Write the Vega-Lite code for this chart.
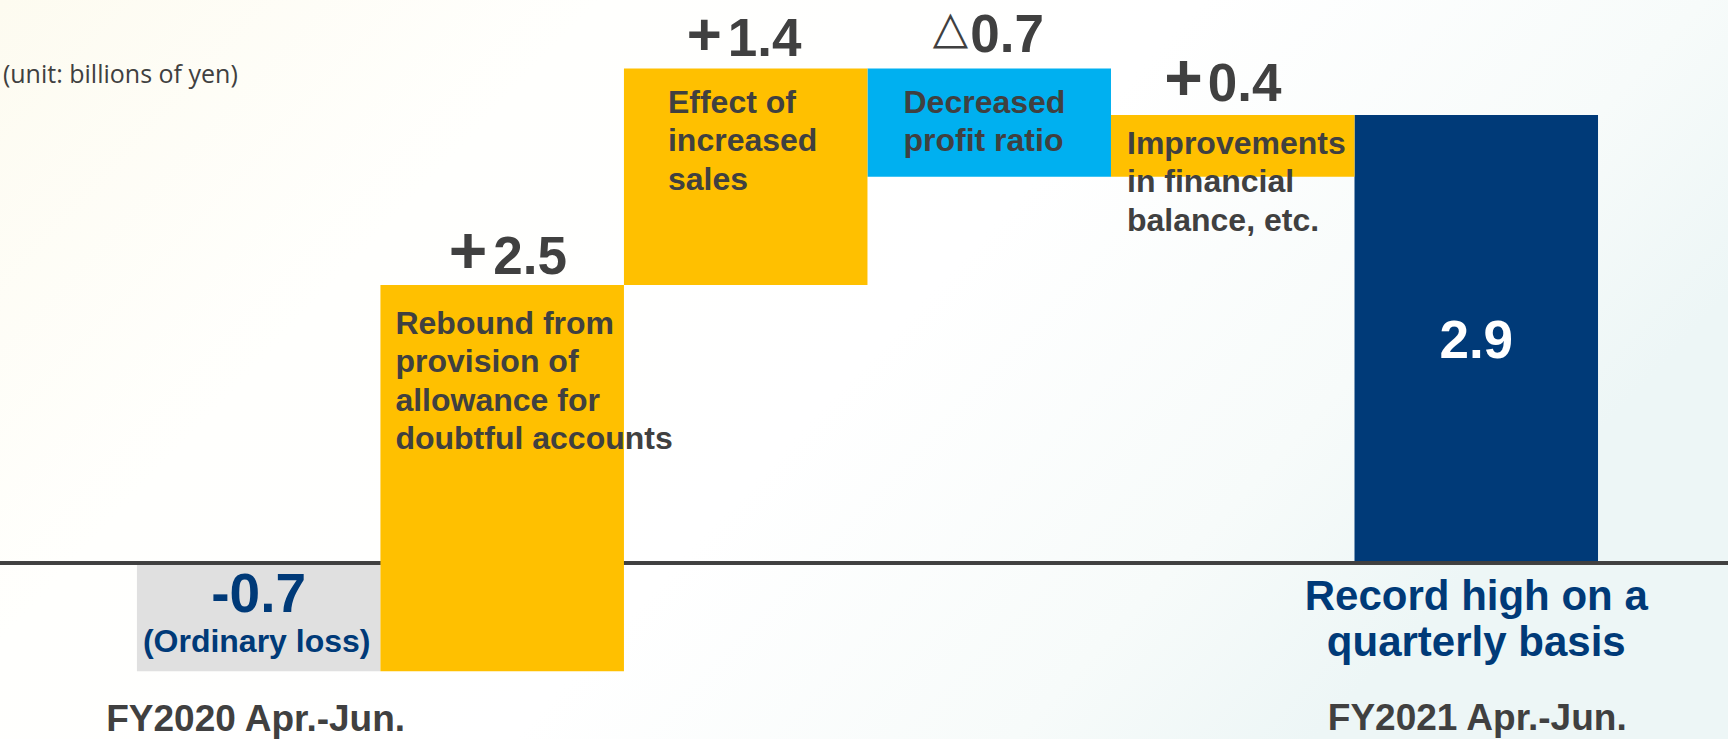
{
  "$schema": "https://vega.github.io/schema/vega-lite/v6.json",
  "width": 1728,
  "height": 739,
  "padding": 0,
  "autosize": {"type": "none"},
  "background": "#ffffff",
  "config": {
    "view": {"stroke": null},
    "axis": {"disable": true},
    "text": {"font": "Liberation Sans", "fontWeight": "bold", "color": "#404040"}
  },
  "data": {
    "values": [
      {"item": "FY2020", "kind": "base", "start": 0, "end": -0.7, "value_label": "-0.7", "note": "(Ordinary loss)", "period": "FY2020 Apr.-Jun."},
      {"item": "Rebound", "kind": "up", "start": -0.7, "end": 1.8, "sign": "+", "delta": "2.5", "desc": "Rebound from\nprovision of\nallowance for\ndoubtful accounts"},
      {"item": "Sales", "kind": "up", "start": 1.8, "end": 3.2, "sign": "+", "delta": "1.4", "desc": "Effect of\nincreased\nsales"},
      {"item": "Profit", "kind": "down", "start": 3.2, "end": 2.5, "sign": "△", "delta": "0.7", "desc": "Decreased\nprofit ratio"},
      {"item": "Financial", "kind": "up", "start": 2.5, "end": 2.9, "sign": "+", "delta": "0.4", "desc": "Improvements\nin financial\nbalance, etc."},
      {"item": "FY2021", "kind": "total", "start": 0, "end": 2.9, "value_label": "2.9", "note": "Record high on a\nquarterly basis", "period": "FY2021 Apr.-Jun."}
    ]
  },
  "layer": [
    {
      "data": {"values": [{"bg": 1}]},
      "mark": {
        "type": "rect",
        "stroke": null,
        "fill": {
          "gradient": "linear", "x1": 0, "y1": 0, "x2": 1, "y2": 0.4,
          "stops": [
            {"offset": 0, "color": "#FDFBF0"},
            {"offset": 0.3, "color": "#FFFFFD"},
            {"offset": 0.6, "color": "#FFFFFF"},
            {"offset": 0.85, "color": "#F7FBFA"},
            {"offset": 1, "color": "#EDF6F6"}
          ]
        }
      },
      "encoding": {
        "x": {"value": 0}, "x2": {"value": "width"},
        "y": {"value": 0}, "y2": {"value": "height"}
      }
    },
    {
      "transform": [{"filter": "datum.kind !== 'up'"}],
      "mark": {"type": "bar"},
      "encoding": {
        "x": {
          "field": "item", "type": "nominal", "axis": null,
          "scale": {
            "domain": ["FY2020", "Rebound", "Sales", "Profit", "Financial", "FY2021"],
            "paddingInner": 0, "paddingOuter": 0.548, "align": 0.513
          }
        },
        "y": {
          "field": "start", "type": "quantitative", "axis": null,
          "scale": {"domain": [-1.139, 3.644], "nice": false, "zero": false}
        },
        "y2": {"field": "end"},
        "color": {
          "field": "kind", "type": "nominal", "legend": null,
          "scale": {"domain": ["base", "up", "down", "total"], "range": ["#E0E0E0", "#FFC000", "#00B0F0", "#003A78"]}
        }
      }
    },
    {
      "mark": {"type": "rule", "stroke": "#404040", "strokeWidth": 3},
      "encoding": {"y": {"datum": 0}}
    },
    {
      "transform": [{"filter": "datum.kind === 'up'"}],
      "mark": {"type": "bar"},
      "encoding": {
        "x": {"field": "item", "type": "nominal"},
        "y": {"field": "start", "type": "quantitative"},
        "y2": {"field": "end"},
        "color": {"field": "kind", "type": "nominal", "legend": null}
      }
    },
    {
      "transform": [{"filter": "datum.item === 'Rebound'"}],
      "layer": [
        {"mark": {"type": "text", "fontSize": 66, "align": "right", "baseline": "alphabetic", "dx": -15, "dy": -12},
         "encoding": {"x": {"field": "item", "type": "nominal"}, "y": {"field": "end", "type": "quantitative"}, "text": {"field": "sign"}}},
        {"mark": {"type": "text", "fontSize": 53, "align": "left", "baseline": "alphabetic", "dx": -9, "dy": -11},
         "encoding": {"x": {"field": "item", "type": "nominal"}, "y": {"field": "end", "type": "quantitative"}, "text": {"field": "delta"}}}
      ]
    },
    {
      "transform": [{"filter": "datum.item === 'Sales'"}],
      "layer": [
        {"mark": {"type": "text", "fontSize": 60, "align": "right", "baseline": "alphabetic", "dx": -24, "dy": -14},
         "encoding": {"x": {"field": "item", "type": "nominal"}, "y": {"field": "end", "type": "quantitative"}, "text": {"field": "sign"}}},
        {"mark": {"type": "text", "fontSize": 53, "align": "left", "baseline": "alphabetic", "dx": -18, "dy": -13},
         "encoding": {"x": {"field": "item", "type": "nominal"}, "y": {"field": "end", "type": "quantitative"}, "text": {"field": "delta"}}}
      ]
    },
    {
      "transform": [{"filter": "datum.item === 'Financial'"}],
      "layer": [
        {"mark": {"type": "text", "fontSize": 66, "align": "right", "baseline": "alphabetic", "dx": -30, "dy": -15},
         "encoding": {"x": {"field": "item", "type": "nominal"}, "y": {"field": "end", "type": "quantitative"}, "text": {"field": "sign"}}},
        {"mark": {"type": "text", "fontSize": 53, "align": "left", "baseline": "alphabetic", "dx": -25, "dy": -14},
         "encoding": {"x": {"field": "item", "type": "nominal"}, "y": {"field": "end", "type": "quantitative"}, "text": {"field": "delta"}}}
      ]
    },
    {
      "transform": [{"filter": "datum.item === 'Profit'"}],
      "layer": [
        {"mark": {"type": "text", "fontSize": 46, "fontWeight": "normal", "font": "DejaVu Sans", "align": "right", "baseline": "alphabetic", "dx": -21, "dy": -26},
         "encoding": {"x": {"field": "item", "type": "nominal"}, "y": {"field": "start", "type": "quantitative"}, "text": {"field": "sign"}}},
        {"mark": {"type": "text", "fontSize": 53, "align": "left", "baseline": "alphabetic", "dx": -19, "dy": -17},
         "encoding": {"x": {"field": "item", "type": "nominal"}, "y": {"field": "start", "type": "quantitative"}, "text": {"field": "delta"}}}
      ]
    },
    {
      "transform": [{"filter": "datum.item === 'Rebound'"}],
      "mark": {"type": "text", "fontSize": 32, "lineHeight": 38.5, "lineBreak": "\n", "align": "left", "baseline": "alphabetic", "dx": 15, "dy": 49},
      "encoding": {
        "x": {"field": "item", "type": "nominal", "bandPosition": 0},
        "y": {"field": "end", "type": "quantitative"},
        "text": {"field": "desc"}
      }
    },
    {
      "transform": [{"filter": "datum.item === 'Sales'"}],
      "mark": {"type": "text", "fontSize": 32, "lineHeight": 38.5, "lineBreak": "\n", "align": "left", "baseline": "alphabetic", "dx": 44, "dy": 44},
      "encoding": {
        "x": {"field": "item", "type": "nominal", "bandPosition": 0},
        "y": {"field": "end", "type": "quantitative"},
        "text": {"field": "desc"}
      }
    },
    {
      "transform": [{"filter": "datum.item === 'Profit'"}],
      "mark": {"type": "text", "fontSize": 32, "lineHeight": 38.5, "lineBreak": "\n", "align": "left", "baseline": "alphabetic", "dx": 36, "dy": 44},
      "encoding": {
        "x": {"field": "item", "type": "nominal", "bandPosition": 0},
        "y": {"field": "start", "type": "quantitative"},
        "text": {"field": "desc"}
      }
    },
    {
      "transform": [{"filter": "datum.item === 'Financial'"}],
      "mark": {"type": "text", "fontSize": 32, "lineHeight": 38.5, "lineBreak": "\n", "align": "left", "baseline": "alphabetic", "dx": 16, "dy": 39},
      "encoding": {
        "x": {"field": "item", "type": "nominal", "bandPosition": 0},
        "y": {"field": "end", "type": "quantitative"},
        "text": {"field": "desc"}
      }
    },
    {
      "transform": [{"filter": "datum.item === 'FY2021'"}],
      "mark": {"type": "text", "fontSize": 53, "color": "#FFFFFF", "align": "center", "baseline": "alphabetic", "dy": 243},
      "encoding": {
        "x": {"field": "item", "type": "nominal"},
        "y": {"field": "end", "type": "quantitative"},
        "text": {"field": "value_label"}
      }
    },
    {
      "transform": [{"filter": "datum.item === 'FY2020'"}],
      "mark": {"type": "text", "fontSize": 55, "color": "#003A78", "align": "center", "baseline": "alphabetic", "dy": 49},
      "encoding": {
        "x": {"field": "item", "type": "nominal"},
        "y": {"field": "start", "type": "quantitative"},
        "text": {"field": "value_label"}
      }
    },
    {
      "transform": [{"filter": "datum.item === 'FY2020'"}],
      "mark": {"type": "text", "fontSize": 32, "color": "#003A78", "align": "center", "baseline": "alphabetic", "dy": 89, "dx": -2},
      "encoding": {
        "x": {"field": "item", "type": "nominal"},
        "y": {"field": "start", "type": "quantitative"},
        "text": {"field": "note"}
      }
    },
    {
      "transform": [{"filter": "datum.item === 'FY2021'"}],
      "mark": {"type": "text", "fontSize": 42, "lineHeight": 46, "lineBreak": "\n", "color": "#003A78", "align": "center", "baseline": "alphabetic", "dy": 47},
      "encoding": {
        "x": {"field": "item", "type": "nominal"},
        "y": {"field": "start", "type": "quantitative"},
        "text": {"field": "note"}
      }
    },
    {
      "transform": [{"filter": "datum.item === 'FY2020'"}],
      "mark": {"type": "text", "fontSize": 37, "align": "center", "baseline": "alphabetic", "dy": 168, "dx": -3},
      "encoding": {
        "x": {"field": "item", "type": "nominal"},
        "y": {"field": "start", "type": "quantitative"},
        "text": {"field": "period"}
      }
    },
    {
      "transform": [{"filter": "datum.item === 'FY2021'"}],
      "mark": {"type": "text", "fontSize": 37, "align": "center", "baseline": "alphabetic", "dy": 167, "dx": 1},
      "encoding": {
        "x": {"field": "item", "type": "nominal"},
        "y": {"field": "start", "type": "quantitative"},
        "text": {"field": "period"}
      }
    },
    {
      "data": {"values": [{"item": "FY2020", "unit": "(unit: billions of yen)"}]},
      "mark": {"type": "text", "font": "Open Sans", "fontWeight": "normal", "fontSize": 25, "align": "left", "baseline": "alphabetic", "dx": -134},
      "encoding": {
        "x": {"field": "item", "type": "nominal", "bandPosition": 0},
        "y": {"datum": 3.107},
        "text": {"field": "unit"}
      }
    }
  ]
}
